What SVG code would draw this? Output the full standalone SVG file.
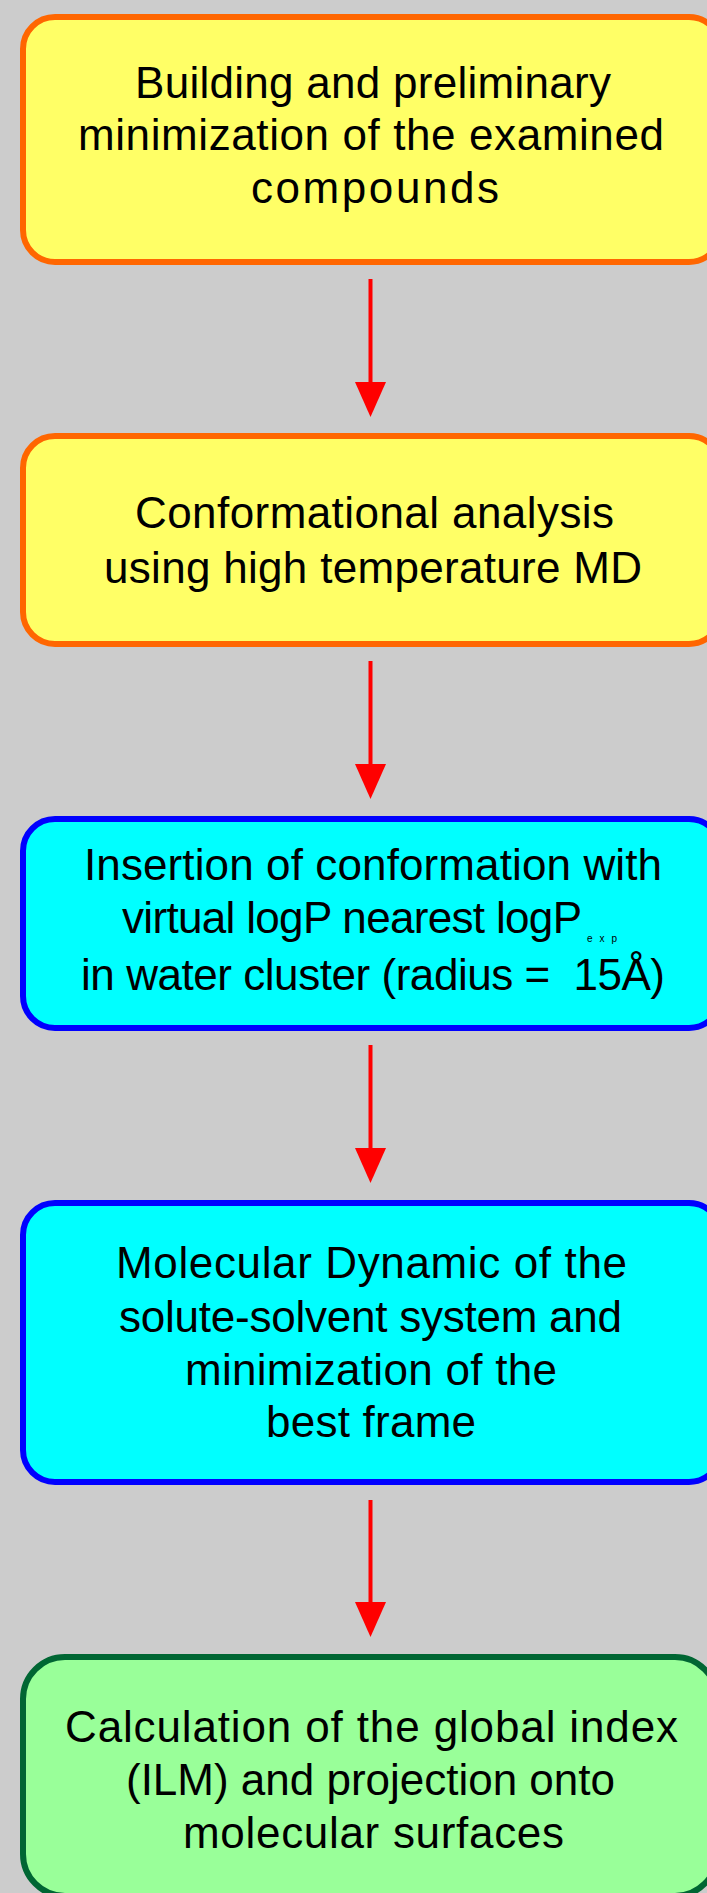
<svg xmlns="http://www.w3.org/2000/svg" width="707" height="1893" viewBox="0 0 707 1893">
<style>
.bg{fill:#cccccc}
.box{stroke-width:6}
.y{fill:#ffff66;stroke:#ff6600}
.c{fill:#00ffff;stroke:#0000ff}
.g{fill:#99ff99;stroke:#006633}
text{font-family:"Liberation Sans",Arial,sans-serif;font-size:44px;fill:#000000}
.sub{font-size:10px}
.arr{stroke:#ff0000;stroke-width:4;fill:none;marker-end:url(#ah)}
</style>
<defs>
<marker id="ah" markerUnits="userSpaceOnUse" viewBox="0 -16 36 32" refX="1" refY="0" markerWidth="36" markerHeight="32" orient="auto">
<path d="M0,-15.5 L35,0 L0,15.5 Z" fill="#ff0000"/>
</marker>
</defs>
<rect class="bg" x="0" y="0" width="707" height="1893"/>
<g id="node1">
<rect class="box y" x="23" y="17" width="698" height="245" rx="32" ry="32"/>
<text x="135" y="98" textLength="476">Building and preliminary</text>
<text x="78" y="150" textLength="586">minimization of the examined</text>
<text x="251" y="203" textLength="248">compounds</text>
</g>
<g id="node2">
<rect class="box y" x="23" y="436" width="698" height="208" rx="32" ry="32"/>
<text x="135" y="528" textLength="479">Conformational analysis</text>
<text x="104" y="583" textLength="538">using high temperature MD</text>
</g>
<g id="node3">
<rect class="box c" x="23" y="819" width="698" height="209" rx="32" ry="32"/>
<text x="84" y="880" textLength="578">Insertion of conformation with</text>
<text x="122" y="933" textLength="460">virtual logP nearest logP</text>
<text class="sub" x="587" y="942" textLength="30">exp</text>
<text x="81" y="990" textLength="584" xml:space="preserve">in water cluster (radius =  15Å)</text>
</g>
<g id="node4">
<rect class="box c" x="23" y="1203" width="698" height="279" rx="32" ry="32"/>
<text x="116" y="1278" textLength="511">Molecular Dynamic of the</text>
<text x="119" y="1332" textLength="503">solute-solvent system and</text>
<text x="185" y="1385" textLength="372">minimization of the</text>
<text x="266" y="1437" textLength="210">best frame</text>
</g>
<g id="node5">
<rect class="box g" x="23" y="1657" width="694" height="239" rx="42" ry="42"/>
<text x="65" y="1742" textLength="613">Calculation of the global index</text>
<text x="126" y="1795" textLength="489">(ILM) and projection onto</text>
<text x="183" y="1848" textLength="381">molecular surfaces</text>
</g>
<g id="connectors">
<line class="arr" x1="370.5" y1="279" x2="370.5" y2="383"/>
<line class="arr" x1="370.5" y1="661" x2="370.5" y2="765"/>
<line class="arr" x1="370.5" y1="1045" x2="370.5" y2="1149"/>
<line class="arr" x1="370.5" y1="1500" x2="370.5" y2="1603"/>
</g>
</svg>
